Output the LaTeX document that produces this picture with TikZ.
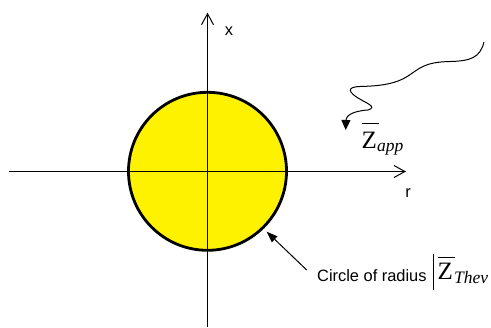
\documentclass[tikz,border=0pt]{standalone}
\usepackage{fontspec}
\setmainfont{Liberation Sans}
\newfontfamily\serifz{Liberation Serif}
\usetikzlibrary{arrows.meta}
\begin{document}
\begin{tikzpicture}[x=1bp,y=-1bp,
  axis/.style={line width=1bp, -{Straight Barb[length=11bp,width=12bp,line width=1bp]}},
  lbl/.style={font=\fontsize{16.4bp}{19bp}\selectfont, inner sep=0},
  zbig/.style={font=\serifz\fontsize{25bp}{28bp}\selectfont, inner sep=0, anchor=base west},
  zsub/.style={font=\serifz\itshape\fontsize{17.5bp}{19bp}\selectfont, inner sep=0, anchor=base west},
  pointer/.style={line width=1bp, -{Triangle[length=11bp,width=8bp]}},
  wiggle/.style={line width=1bp, -{Triangle[length=10bp,width=9bp]}},
  zbar/.style={line width=1.3bp}]
\useasboundingbox (0,0) rectangle (491,327);
% axes
\coordinate (hl) at (9,171.5);
\coordinate (hr) at (406,171.5);
\coordinate (vb) at (207.5,327);
\coordinate (vt) at (207.5,12.7);
\node[circle, draw, fill=yellow, line width=2.8bp, minimum size=158bp, inner sep=0] (disk) at (207.5,171.3) {};
\draw[axis] (hl) -- (hr);
\draw[axis] (vb) -- (vt);
\node[lbl] (xl) at (229,31) {x};
\node[lbl] (rl) at (408,193) {r};
% Z app
\node[zbig] (zapp) at (361.5,148) {Z};
\node[zsub] (app) at (377,151) {app};
\draw[zbar] ([shift={(0,-8)}]zapp.north west) -- ([shift={(2,-8)}]zapp.north east);
% wiggly arrow
\coordinate (ws) at (484,42);
\coordinate (wtip) at (345.7,130);
\draw[wiggle] (ws) .. controls (480,58) and (470,61) .. (450,61.5)
  .. controls (425,62) and (420,68) .. (408,76)
  .. controls (396,84) and (380,86) .. (360,86.5)
  .. controls (345,87) and (350,93) .. (358,98)
  .. controls (366,103) and (378,107) .. (368,110)
  .. controls (352,111) and (346,116) .. (wtip);
% circle label
\node[lbl, anchor=base west] (cap) at (317,281) {Circle of radius};
\coordinate (vbarT) at (433.5,254);
\coordinate (vbarB) at (433.5,290);
\draw[line width=1bp] (vbarT) -- (vbarB);
\node[zbig] (zthev) at (437.5,279) {Z};
\node[zsub] (thev) at (454,283) {Thev};
\draw[zbar] ([shift={(0,-5)}]zthev.north west) -- ([shift={(2,-5)}]zthev.north east);
% pointer
\coordinate (ptail) at (306.7,270);
\coordinate (ptip) at (266.7,231.7);
\draw[pointer] (ptail) -- (ptip);
\end{tikzpicture}
\end{document}
